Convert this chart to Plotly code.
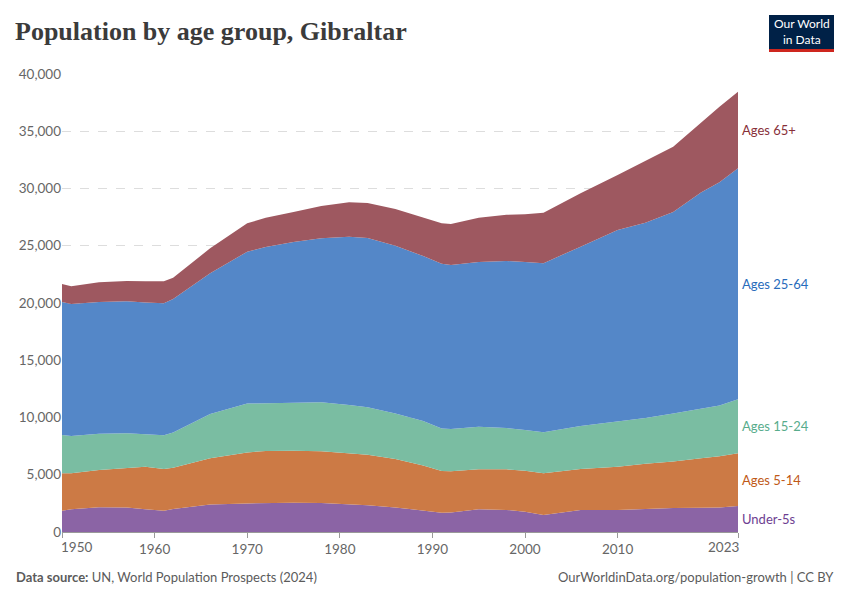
import plotly.graph_objects as go

# ---- data ----
years = [1950, 1951, 1954, 1957, 1959, 1961, 1962, 1966, 1970, 1972, 1975, 1978,
         1981, 1983, 1986, 1989, 1991, 1992, 1995, 1998, 2000, 2002, 2006, 2010,
         2013, 2016, 2019, 2021, 2023]
under5 = [1860, 1980, 2160, 2130, 1980, 1860, 2010, 2400, 2490, 2520, 2560, 2530,
          2420, 2340, 2150, 1850, 1690, 1700, 1980, 1930, 1770, 1480, 1920, 1920,
          2030, 2090, 2110, 2140, 2270]
age5_14 = [3270, 3150, 3260, 3450, 3720, 3640, 3610, 4050, 4460, 4560, 4540, 4520,
           4450, 4410, 4230, 3950, 3640, 3600, 3490, 3540, 3580, 3650, 3580, 3780,
           3940, 4060, 4340, 4480, 4600]
age15_24 = [3340, 3250, 3170, 3040, 2830, 2940, 3060, 3850, 4270, 4180, 4180, 4280,
            4220, 4150, 3980, 3900, 3720, 3700, 3730, 3610, 3560, 3580, 3760, 3930,
            3980, 4200, 4350, 4430, 4720]
age25_64 = [11620, 11530, 11500, 11530, 11520, 11530, 11670, 12290, 13260, 13640,
            14050, 14320, 14700, 14780, 14640, 14400, 14370, 14320, 14380, 14590,
            14680, 14770, 15660, 16750, 17050, 17600, 18850, 19500, 20180]
age65 = [1570, 1550, 1720, 1770, 1850, 1920, 1850, 2190, 2480, 2550, 2620, 2820,
         3010, 3050, 3200, 3350, 3540, 3580, 3870, 4030, 4160, 4410, 4660, 4800,
         5400, 5700, 6100, 6600, 6690]

series_names = ["Under-5s", "Ages 5-14", "Ages 15-24", "Ages 25-64", "Ages 65+"]
x_tick_vals = [1950, 1960, 1970, 1980, 1990, 2000, 2010, 2023]
y_tick_vals = [0, 5000, 10000, 15000, 20000, 25000, 30000, 35000, 40000]

# ---- styling ----
fill_colors = ["#8b64a5", "#cc7a45", "#7abda2", "#5487c8", "#9e5860"]
label_colors = ["#6d3e91", "#c05917", "#58ac8c", "#286bbb", "#883039"]

W, H = 850, 600
L, R, T, B = 62, 738, 74, 532


def px_x(px):
    return (px - L) / (R - L)


def px_y(py):
    return (B - py) / (B - T)


fig = go.Figure()
all_series = [under5, age5_14, age15_24, age25_64, age65]
for name, vals, fc in zip(series_names, all_series, fill_colors):
    fig.add_trace(go.Scatter(
        x=years, y=vals, name=name, stackgroup="one", mode="lines",
        line=dict(width=0, color=fc), fillcolor=fc, hoverinfo="skip",
        showlegend=False))

annotations = []
# series labels at the right end, centred in each band
cum = 0
for name, vals, lc in zip(series_names, all_series, label_colors):
    mid = cum + vals[-1] / 2
    cum += vals[-1]
    annotations.append(dict(
        x=years[-1], y=mid, xref="x", yref="y", text=name, showarrow=False,
        xanchor="left", yanchor="middle", xshift=2,
        font=dict(family="Lato", size=13, color=lc)))

# edge x tick labels (left/right aligned like the original)
annotations.append(dict(x=x_tick_vals[0], y=0, xref="x", yref="paper", text=str(x_tick_vals[0]),
                        showarrow=False, xanchor="left", yanchor="top", yshift=-5, xshift=-3,
                        font=dict(family="Lato", size=13.5, color="#666666")))
annotations.append(dict(x=x_tick_vals[-1], y=0, xref="x", yref="paper", text=str(x_tick_vals[-1]),
                        showarrow=False, xanchor="right", yanchor="top", yshift=-5, xshift=3,
                        font=dict(family="Lato", size=13.5, color="#666666")))

# title
annotations.append(dict(x=px_x(13), y=px_y(32), xref="paper", yref="paper",
                        text="<b>Population by age group, Gibraltar</b>", showarrow=False,
                        xanchor="left", yanchor="middle",
                        font=dict(family="Liberation Serif", size=26, color="#3b3b3b")))
# footer
annotations.append(dict(x=px_x(14), y=px_y(577), xref="paper", yref="paper",
                        text="<b>Data source:</b> UN, World Population Prospects (2024)",
                        showarrow=False, xanchor="left", yanchor="middle",
                        font=dict(family="Lato", size=13, color="#5b5b5b")))
annotations.append(dict(x=px_x(836), y=px_y(577), xref="paper", yref="paper",
                        text="OurWorldinData.org/population-growth | CC BY",
                        showarrow=False, xanchor="right", yanchor="middle",
                        font=dict(family="Lato", size=13, color="#5b5b5b")))
# logo text
annotations.append(dict(x=px_x(801.5), y=px_y(32), xref="paper", yref="paper",
                        text="Our World<br>in Data", showarrow=False,
                        xanchor="center", yanchor="middle", align="center",
                        font=dict(family="Lato", size=12, color="#ffffff")))

shapes = [
    dict(type="rect", xref="paper", yref="paper", x0=px_x(769), x1=px_x(834),
         y0=px_y(49), y1=px_y(15), fillcolor="#002147", line=dict(width=0), layer="above"),
    dict(type="rect", xref="paper", yref="paper", x0=px_x(769), x1=px_x(834),
         y0=px_y(52), y1=px_y(49), fillcolor="#ce261e", line=dict(width=0), layer="above"),
]

fig.update_layout(
    width=W, height=H,
    margin=dict(l=L, r=W - R, t=T, b=H - B, pad=0),
    paper_bgcolor="white", plot_bgcolor="white",
    annotations=annotations, shapes=shapes,
    showlegend=False, hovermode=False,
    font=dict(family="Lato", color="#666666"),
    xaxis=dict(
        range=[years[0], years[-1]], tickmode="array", tickvals=x_tick_vals,
        ticktext=[""] + [str(v) for v in x_tick_vals[1:-1]] + [""],
        showgrid=False, zeroline=False, showline=True, linecolor="#999999", linewidth=1,
        ticks="outside", ticklen=5, tickcolor="#999999",
        tickfont=dict(family="Lato", size=13.5, color="#666666"),
    ),
    yaxis=dict(
        range=[0, 40000], tickmode="array", tickvals=y_tick_vals, tickformat=",",
        showgrid=True, gridcolor="#dddddd", griddash="dash", gridwidth=1,
        zeroline=False, showline=False, ticks="",
        tickfont=dict(family="Lato", size=13.5, color="#666666"),
    ),
)

fig.write_html("out.html", config={"displayModeBar": False},
               post_script="document.body.style.margin='0';document.body.style.overflow='hidden';")
